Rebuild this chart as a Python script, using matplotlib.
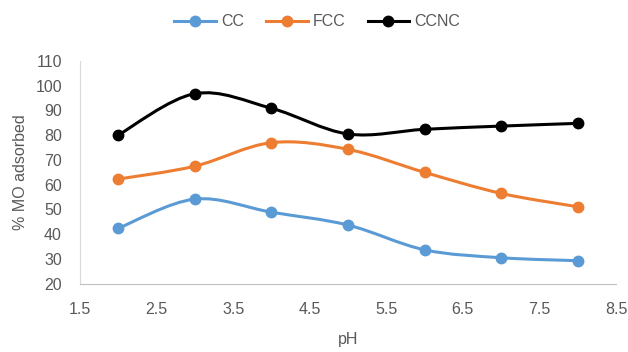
import matplotlib
matplotlib.use("Agg")
import matplotlib.pyplot as plt
import numpy as np
from matplotlib.path import Path
from matplotlib.patches import PathPatch

plt.rcParams['font.family'] = ['Liberation Sans', 'DejaVu Sans']

ph = [2, 3, 4, 5, 6, 7, 8]
cc = [42.4, 54.2, 48.9, 43.7, 33.7, 30.5, 29.3]
fcc = [62.3, 67.5, 77.0, 74.3, 65.0, 56.5, 51.1]
ccnc = [80.1, 96.8, 90.9, 80.5, 82.4, 83.7, 84.8]

series = [("CC", cc, "#5B9BD5"), ("FCC", fcc, "#ED7D31"), ("CCNC", ccnc, "#000000")]


def smooth_path(x, y):
    """Bezier path through the points, Catmull-Rom style like spreadsheet smoothing."""
    pts = np.column_stack([x, y]).astype(float)
    n = len(pts)
    verts = [pts[0]]
    codes = [Path.MOVETO]
    for i in range(n - 1):
        p0 = pts[i - 1] if i > 0 else pts[i]
        p1 = pts[i]
        p2 = pts[i + 1]
        p3 = pts[i + 2] if i + 2 < n else pts[i + 1]
        c1 = p1 + (p2 - p0) / 6.0
        c2 = p2 - (p3 - p1) / 6.0
        verts += [c1, c2, p2]
        codes += [Path.CURVE4] * 3
    return Path(verts, codes)


fig = plt.figure(figsize=(6.28, 3.52), dpi=100)
ax = fig.add_axes([0.1274, 0.194, 0.8535, 0.6327])

for name, vals, col in series:
    ax.add_patch(PathPatch(smooth_path(ph, vals), facecolor='none',
                           edgecolor=col, lw=2.2, zorder=2))
    ax.plot(ph, vals, linestyle='none', marker='o', ms=7.5, color=col, zorder=3)
    # legend proxy
    ax.plot([], [], '-o', color=col, lw=2.2, ms=7.5, label=name)

ax.set_xlim(1.5, 8.5)
ax.set_ylim(20, 110)
ax.set_xticks(np.arange(1.5, 8.6, 1.0))
ax.set_yticks(np.arange(20, 111, 10))
ax.tick_params(length=0, labelsize=11.5, colors='#595959')
ax.tick_params(axis='y', pad=13)
ax.tick_params(axis='x', pad=13)

for side in ['top', 'right']:
    ax.spines[side].set_visible(False)
ax.spines['left'].set_color('#D9D9D9')
ax.spines['bottom'].set_color('#BFBFBF')

ax.set_xlabel('pH', fontsize=11.5, color='#595959', labelpad=11)
ax.set_ylabel('% MO adsorbed', fontsize=11.5, color='#595959', labelpad=5)

ax.legend(loc='upper center', bbox_to_anchor=(0.505, 1.0), bbox_transform=fig.transFigure,
          ncol=3, frameon=False, fontsize=11.5, handlelength=2.6, columnspacing=1.4,
          handletextpad=0.3, labelcolor='#595959')

fig.savefig('out.png', dpi=100)
